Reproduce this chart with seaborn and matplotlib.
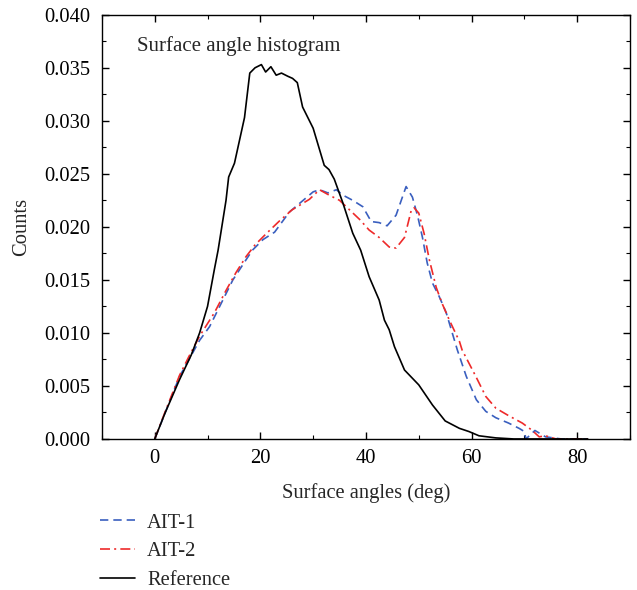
import matplotlib
matplotlib.use("Agg")
import matplotlib.pyplot as plt
import seaborn as sns
import pandas as pd
from matplotlib.ticker import MultipleLocator

# Data
ref_x = [0, 2, 4.7, 6.9, 8.5, 10, 11.3, 12, 13.5, 14, 15.1, 17, 18, 19, 20.2, 21, 22, 23, 24, 25.2,
         26.1, 27, 28, 29, 30, 31.2, 32.1, 33, 34, 35.6, 37.5, 39, 40.6, 42.5, 43.5, 44.4, 45.4,
         47.3, 50, 52.6, 55, 57.7, 59.5, 61.4, 64.6, 68, 72, 82]
ref_y = [0, 0.0025, 0.0056, 0.0079, 0.0100, 0.0125, 0.0160, 0.0178, 0.0225, 0.0247, 0.0260, 0.0303,
         0.0345, 0.0350, 0.0353, 0.0346, 0.0351, 0.0343, 0.0345, 0.0342, 0.0340, 0.0336, 0.0313,
         0.0303, 0.0293, 0.0273, 0.0258, 0.0254, 0.0245, 0.0223, 0.0194, 0.0178, 0.0153, 0.0131,
         0.0112, 0.0103, 0.0087, 0.0065, 0.0051, 0.0032, 0.0017, 0.0010, 0.0007, 0.0003, 0.0001,
         0.0, 0.0, 0.0]

ait1_x = [0, 2, 4.7, 6.5, 8.5, 10.4, 12.3, 14.8, 17.3, 18.5, 20.5, 22.7, 25.5, 27.4, 30, 31.2, 32.8,
          34.4, 35.6, 37.5, 39.4, 41, 42.5, 44, 45.7, 47.6, 48.8, 49.8, 50.7, 51.6, 52.6, 53.9,
          55.2, 57.3, 59, 60.9, 62.7, 64.6, 67, 69, 70, 70.3, 72, 74, 77, 82]
ait1_y = [0, 0.0025, 0.0059, 0.0075, 0.0093, 0.0106, 0.0125, 0.0150, 0.0169, 0.0178, 0.0188, 0.0195,
          0.0214, 0.0222, 0.0233, 0.0235, 0.0232, 0.0235, 0.0230, 0.0225, 0.0219, 0.0205, 0.0204,
          0.0201, 0.0211, 0.0238, 0.0228, 0.0210, 0.0190, 0.0166, 0.0147, 0.0134, 0.0119, 0.0084,
          0.0059, 0.0037, 0.0026, 0.0020, 0.0015, 0.0010, 0.0007, 0.0, 0.0008, 0.0002, 0.0, 0.0]

ait2_x = [0, 2, 4.7, 6.5, 8.5, 11.3, 13.5, 15.4, 17.3, 19, 21, 23.5, 26, 29.3, 31.2, 33, 35, 36.9,
          38.8, 40.6, 42.5, 44.4, 45.7, 47.3, 48.6, 49.1, 50, 51, 52, 53.3, 54.4, 55.8, 57.7, 58.2,
          60.8, 62.7, 64.6, 67, 69.6, 71.5, 72.8, 74, 76, 82]
ait2_y = [0, 0.0026, 0.0060, 0.0078, 0.0097, 0.0119, 0.0140, 0.0157, 0.0172, 0.0183, 0.0193, 0.0205,
          0.0216, 0.0226, 0.0235, 0.0230, 0.0225, 0.0216, 0.0207, 0.0197, 0.0190, 0.0181, 0.0180,
          0.0190, 0.0216, 0.0218, 0.0213, 0.0194, 0.0169, 0.0143, 0.0128, 0.0112, 0.0092, 0.0084,
          0.0059, 0.0040, 0.0029, 0.0022, 0.0015, 0.0008, 0.0002, 0.0003, 0.0, 0.0]

x_ticks = [0, 20, 40, 60, 80]
y_ticks = [0.000, 0.005, 0.010, 0.015, 0.020, 0.025, 0.030, 0.035, 0.040]

sns.set_theme(style="ticks")
plt.rcParams['font.family'] = ['Liberation Serif', 'DejaVu Serif']
plt.rcParams['xtick.direction'] = 'in'
plt.rcParams['ytick.direction'] = 'in'

FS = 14.8

fig = plt.figure(figsize=(6.37, 5.90), dpi=100)
ax = fig.add_axes([0.160, 0.256, 0.829, 0.719])

sns.lineplot(x=ait1_x, y=ait1_y, ax=ax, color='#3a5fbf', lw=1.2, label='AIT-1', sort=False)
ax.lines[-1].set_dashes([5, 3])
sns.lineplot(x=ait2_x, y=ait2_y, ax=ax, color='#ee2a2a', lw=1.2, label='AIT-2', sort=False)
ax.lines[-1].set_dashes([6, 2.5, 1.2, 2.5])
sns.lineplot(x=ref_x, y=ref_y, ax=ax, color='black', lw=1.2, label='Reference', sort=False)

ax.set_xlim(-10, 90)
ax.set_ylim(0, 0.040)
ax.set_xticks(x_ticks)
ax.set_yticks(y_ticks)
ax.set_yticklabels([f"{v:.3f}" for v in y_ticks])
ax.xaxis.set_minor_locator(MultipleLocator(10))
ax.yaxis.set_minor_locator(MultipleLocator(0.0025))
ax.tick_params(which='both', top=True, right=True, direction='in', labelsize=FS, colors='black')
ax.tick_params(which='major', length=5, width=1)
ax.tick_params(which='minor', length=3, width=0.8)
ax.tick_params(axis='y', which='major', pad=8)
ax.tick_params(axis='x', which='major', pad=7)
for s in ax.spines.values():
    s.set_linewidth(1.0)
    s.set_color('black')

ax.set_xlabel('Surface angles (deg)', fontsize=FS, labelpad=11)
ax.set_ylabel('Counts', fontsize=FS, labelpad=10)
ax.text(0.066, 0.927, 'Surface angle histogram', transform=ax.transAxes, fontsize=15,
        va='center', ha='left')

handles, labels = ax.get_legend_handles_labels()
ax.get_legend().remove()
fig.legend(handles, labels, loc='upper left', bbox_to_anchor=(0.157, 0.130), frameon=False,
           fontsize=FS, handlelength=1.7, labelspacing=0.45, handletextpad=0.6, borderpad=0,
           borderaxespad=0)

fig.savefig('out.png', dpi=100)
